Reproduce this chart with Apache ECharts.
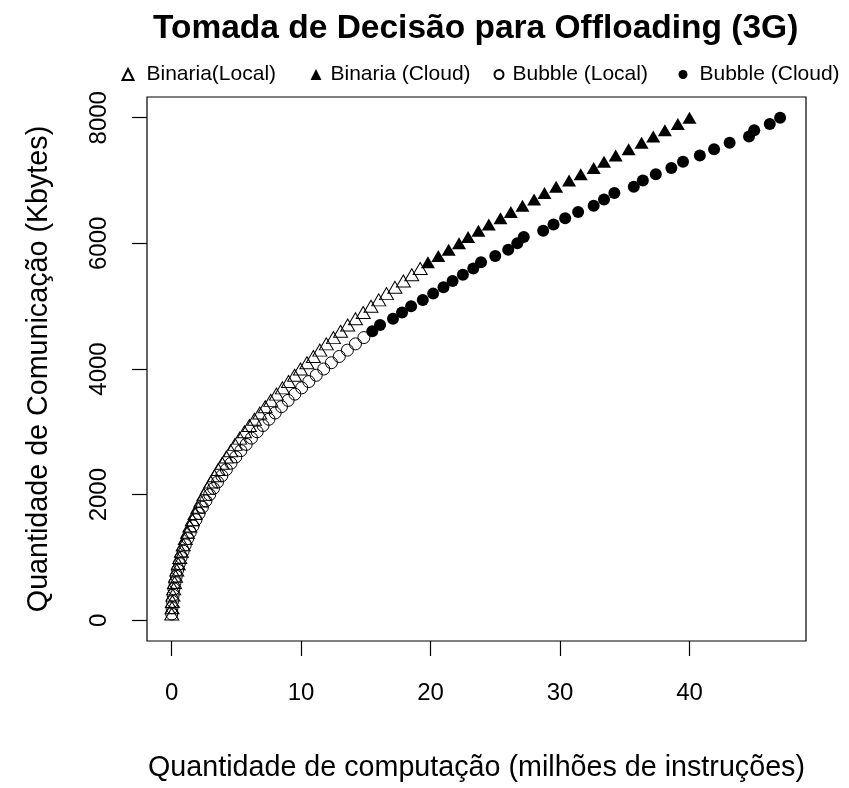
<!DOCTYPE html>
<html>
<head>
<meta charset="utf-8">
<script src="https://cdn.jsdelivr.net/npm/echarts@6/dist/echarts.min.js"></script>
<style>
  html, body { margin: 0; padding: 0; background: #fff; }
  #chart { width: 849px; height: 788px; }
</style>
</head>
<body>
<div id="chart"></div>
<script>
// Binary algorithm, executed locally
const binLocalY = [100,200,300,400,500,600,700,800,900,1000,1100,1200,1300,1400,1500,1600,1700,1800,1900,2000,
  2100,2200,2300,2400,2500,2600,2700,2800,2900,3000,3100,3200,3300,3400,3500,3600,3700,3800,3900,4000,
  4100,4200,4300,4400,4500,4600,4700,4800,4900,5000,5100,5200,5300,5400,5500,5600];
const binLocalX = [0.01,0.03,0.06,0.10,0.16,0.23,0.31,0.40,0.51,0.63,
  0.76,0.90,1.06,1.23,1.41,1.60,1.81,2.03,2.26,2.50,
  2.76,3.03,3.31,3.60,3.91,4.23,4.56,4.90,5.26,5.63,
  6.01,6.40,6.81,7.23,7.66,8.10,8.56,9.03,9.50,9.95,
  10.45,10.95,11.45,11.95,12.50,13.05,13.60,14.20,14.80,15.40,
  16.00,16.60,17.25,17.90,18.55,19.20];

// Binary algorithm, offloaded to the cloud
const binCloudY = [5700,5800,5900,6000,6100,6200,6300,6400,6500,6600,6700,6800,6900,7000,7100,7200,
  7300,7400,7500,7600,7700,7800,7900,8000];
const binCloudX = [19.8,20.6,21.4,22.2,22.9,23.7,24.5,25.4,26.2,27.1,
  28.0,28.8,29.7,30.7,31.6,32.6,33.4,34.3,35.3,36.3,
  37.2,38.1,39.1,40.0];

// Bubble sort, executed locally
const bubLocalY = [100,200,300,400,500,600,700,800,900,1000,1100,1200,1300,1400,1500,1600,1700,1800,1900,2000,
  2100,2200,2300,2400,2500,2600,2700,2800,2900,3000,3100,3200,3300,3400,3500,3600,3700,3800,3900,4000,
  4100,4200,4300,4400,4500];
const bubLocalX = [0.01,0.03,0.07,0.12,0.18,0.26,0.36,0.47,0.59,0.73,
  0.89,1.06,1.24,1.44,1.65,1.88,2.12,2.38,2.65,2.94,
  3.24,3.55,3.88,4.23,4.59,4.96,5.35,5.76,6.17,6.61,
  7.06,7.52,8.00,8.49,9.00,9.52,10.05,10.60,11.17,11.75,
  12.34,12.95,13.58,14.20,14.85];

// Bubble sort, offloaded to the cloud
const bubCloudY = [4600,4700,4800,4900,5000,5100,5200,5300,5400,5500,5600,5700,5800,5900,6000,6100,6200,
  6300,6400,6500,6600,6700,6800,6900,7000,7100,7200,7300,7400,7500,7600,7700,7800,7900,8000];
const bubCloudX = [15.5,16.1,17.1,17.8,18.5,19.4,20.2,21.0,21.7,22.5,
  23.3,23.9,25.0,26.0,26.7,27.2,28.7,29.5,30.4,31.4,
  32.6,33.4,34.2,35.7,36.4,37.4,38.6,39.5,40.8,41.9,
  43.1,44.6,45.0,46.2,47.0];

const xTicks = [0, 10, 20, 30, 40];
const yTicks = [0, 2000, 4000, 6000, 8000];

const FONT = '"Liberation Sans", Arial, sans-serif';

function pairs(xs, ys) {
  return xs.map((x, i) => [x, ys[i]]);
}

const hollow = { color: 'rgba(0,0,0,0)', borderColor: '#000', borderWidth: 1, opacity: 1 };
const solid = { color: '#000', borderColor: '#000', borderWidth: 0, opacity: 1 };

// one legend block per series so each entry sits at its own x position
function legendAt(iconCenter, name, icon, size, textPad) {
  return {
    left: iconCenter - size / 2 - 5, top: 59,
    orient: 'horizontal',
    selectedMode: false,
    itemWidth: size, itemHeight: size,
    textStyle: { fontFamily: FONT, fontSize: 21, color: '#000', padding: [0, 0, 0, textPad] },
    data: [{ name: name, icon: icon }]
  };
}

const chart = echarts.init(document.getElementById('chart'), null, { renderer: 'canvas' });
chart.setOption({
  animation: false,
  backgroundColor: '#fff',
  title: {
    text: 'Tomada de Decisão para Offloading (3G)',
    left: 148, top: 7,
    textStyle: { fontFamily: FONT, fontSize: 33.5, fontWeight: 'bold', color: '#000' }
  },
  legend: [
    legendAt(127, 'Binaria(Local)', 'triangle', 11, 8),
    legendAt(316, 'Binaria (Cloud)', 'triangle', 11, 4),
    legendAt(498, 'Bubble (Local)', 'circle', 9, 4),
    legendAt(683, 'Bubble (Cloud)', 'circle', 9, 7)
  ],
  grid: {
    left: 147, right: 43, top: 97, bottom: 135,
    show: true, borderColor: '#000', borderWidth: 1.2, backgroundColor: 'transparent'
  },
  xAxis: {
    type: 'value', min: -1.9, max: 49.0,
    name: 'Quantidade de computação (milhões de instruções)',
    nameLocation: 'middle', nameGap: 113,
    nameTextStyle: { fontFamily: FONT, fontSize: 28.7, color: '#000' },
    axisLine: { show: false, onZero: false },
    axisTick: { show: true, inside: false, length: 15, customValues: xTicks, lineStyle: { color: '#000', width: 1.2 } },
    axisLabel: { customValues: xTicks, fontFamily: FONT, fontSize: 24, color: '#000', margin: 40 },
    splitLine: { show: false }
  },
  yAxis: {
    type: 'value', min: -330, max: 8330,
    name: 'Quantidade de Comunicação (Kbytes)',
    nameLocation: 'middle', nameGap: 93,
    nameTextStyle: { fontFamily: FONT, fontSize: 28.7, color: '#000' },
    axisLine: { show: false, onZero: false },
    axisTick: { show: true, inside: false, length: 15, customValues: yTicks, lineStyle: { color: '#000', width: 1.2 } },
    axisLabel: { customValues: yTicks, rotate: 90, fontFamily: FONT, fontSize: 24, color: '#000', margin: 36,
      formatter: (v) => String(v) },
    splitLine: { show: false }
  },
  series: [
    { name: 'Binaria(Local)', type: 'scatter', symbol: 'triangle', symbolSize: [14, 12],
      itemStyle: hollow, data: pairs(binLocalX, binLocalY) },
    { name: 'Binaria (Cloud)', type: 'scatter', symbol: 'triangle', symbolSize: [14, 12],
      itemStyle: solid, data: pairs(binCloudX, binCloudY) },
    { name: 'Bubble (Local)', type: 'scatter', symbol: 'circle', symbolSize: 12,
      itemStyle: hollow, data: pairs(bubLocalX, bubLocalY) },
    { name: 'Bubble (Cloud)', type: 'scatter', symbol: 'circle', symbolSize: 12,
      itemStyle: solid, data: pairs(bubCloudX, bubCloudY) }
  ]
});
</script>
</body>
</html>
